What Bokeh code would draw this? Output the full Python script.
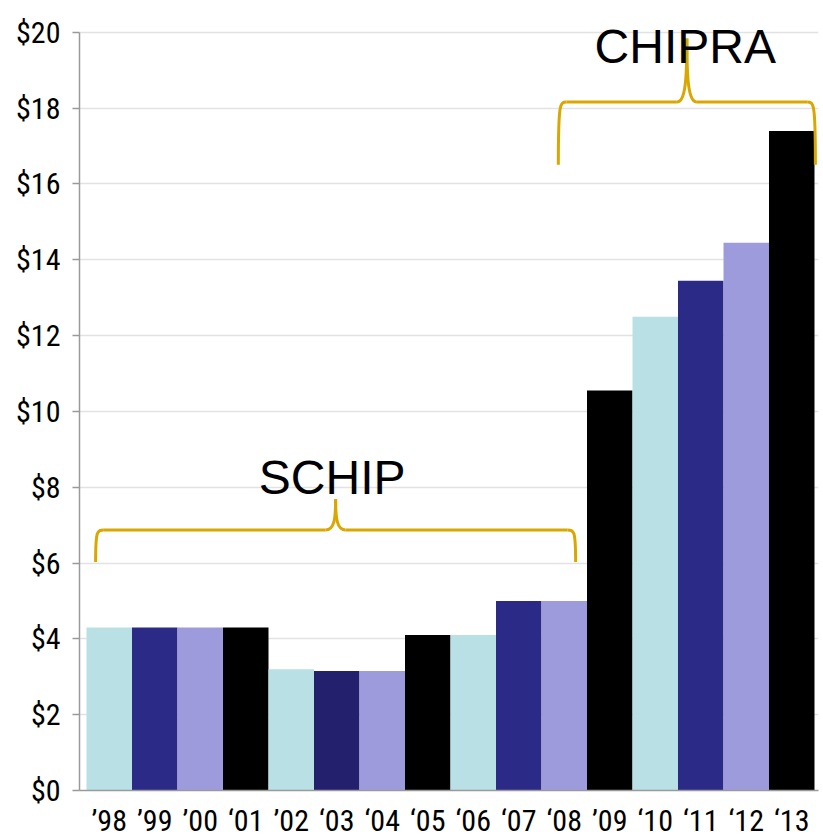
from bokeh.plotting import figure
from bokeh.models import Range1d, FixedTicker, ColumnDataSource
from bokeh.embed import file_html
from bokeh.resources import INLINE
from bokeh.core.properties import value

# ---- data ----
years = ["’98", "’99", "’00", "‘01", "’02", "‘03", "‘04", "‘05",
         "‘06", "‘07", "‘08", "’09", "‘10", "‘11", "‘12", "‘13"]
funding = [4.3, 4.3, 4.3, 4.3, 3.2, 3.15, 3.15, 4.1,
           4.1, 5.0, 5.0, 10.55, 12.5, 13.45, 14.45, 17.4]
bar_colors = ["#B9E0E4", "#2B2A87", "#9D9BDB", "#000000",
              "#B9E0E4", "#23216E", "#9D9BDB", "#000000",
              "#B9E0E4", "#2B2A87", "#9D9BDB", "#000000",
              "#B9E0E4", "#2B2A87", "#9D9BDB", "#000000"]
y_ticks = [0, 2, 4, 6, 8, 10, 12, 14, 16, 18, 20]

brace_labels = ["SCHIP", "CHIPRA"]
brace_start = [-0.30, 9.87]
brace_end = [10.25, 15.52]
brace_base = [6.03, 16.51]
brace_mid = [6.87, 18.16]
brace_peak = [7.68, 19.84]
label_x = [4.90, 12.66]
label_y = [8.26, 19.62]

GOLD = "#D9A700"
NARROW = "'Roboto Condensed', 'DejaVu Sans Condensed', sans-serif"

p = figure(width=823, height=840, output_backend="svg", toolbar_location=None,
           x_range=Range1d(-0.654, 15.588), y_range=Range1d(0, 20.84),
           min_border_left=79, min_border_right=5, min_border_top=0,
           min_border_bottom=45)
p.outline_line_color = None

idx = list(range(len(years)))
src = ColumnDataSource(dict(x=idx, top=funding, color=bar_colors))
p.vbar(x="x", top="top", width=1.0, bottom=0, fill_color="color",
       line_color=None, source=src)

dx = 0.18
dp = 0.22
for s, e, b, m, t in zip(brace_start, brace_end, brace_base, brace_mid, brace_peak):
    c = (s + e) / 2.0
    p.bezier(x0=[s], y0=[b], x1=[s + dx], y1=[m], cx0=[s], cy0=[m],
             cx1=[s + dx * 0.2], cy1=[m], line_color=GOLD, line_width=3)
    p.bezier(x0=[e], y0=[b], x1=[e - dx], y1=[m], cx0=[e], cy0=[m],
             cx1=[e - dx * 0.2], cy1=[m], line_color=GOLD, line_width=3)
    p.segment(x0=[s + dx, c + dp], y0=[m, m], x1=[c - dp, e - dx], y1=[m, m],
              line_color=GOLD, line_width=3)
    p.bezier(x0=[c - dp, c + dp], y0=[m, m], x1=[c, c], y1=[t, t],
             cx0=[c - dp * 0.15, c + dp * 0.15], cy0=[m, m],
             cx1=[c, c], cy1=[m + 0.35 * (t - m)] * 2,
             line_color=GOLD, line_width=3)

p.text(x=label_x, y=label_y, text=brace_labels, text_align="center",
       text_baseline="alphabetic", text_font=value("Liberation Sans"),
       text_font_size="48px", text_color="black")

p.xgrid.grid_line_color = None
p.ygrid.grid_line_color = "#E2E2E2"
p.ygrid.grid_line_width = 1.5
p.ygrid.ticker = FixedTicker(ticks=y_ticks)

p.yaxis.ticker = FixedTicker(ticks=y_ticks)
p.yaxis.major_label_overrides = {v: f"${v}" for v in y_ticks}
p.yaxis.bounds = (0, 20)
p.yaxis.axis_line_color = "#9A9A9A"
p.yaxis.axis_line_width = 1.5
p.yaxis.major_tick_line_color = "#9A9A9A"
p.yaxis.major_tick_line_width = 1.5
p.yaxis.major_tick_out = 7
p.yaxis.major_tick_in = 0
p.yaxis.minor_tick_line_color = None
p.yaxis.major_label_standoff = 12
p.yaxis.major_label_text_font = NARROW
p.yaxis.major_label_text_font_size = "30px"
p.yaxis.major_label_text_color = "black"

p.xaxis.ticker = FixedTicker(ticks=idx)
p.xaxis.major_label_overrides = {i: y for i, y in zip(idx, years)}
p.xaxis.axis_line_color = "#9A9A9A"
p.xaxis.axis_line_width = 1.5
p.xaxis.major_tick_line_color = None
p.xaxis.minor_tick_line_color = None
p.xaxis.major_label_standoff = 6
p.xaxis.major_label_text_font = NARROW
p.xaxis.major_label_text_font_size = "30px"
p.xaxis.major_label_text_color = "black"

open("out.html", "w").write(file_html(p, INLINE))
